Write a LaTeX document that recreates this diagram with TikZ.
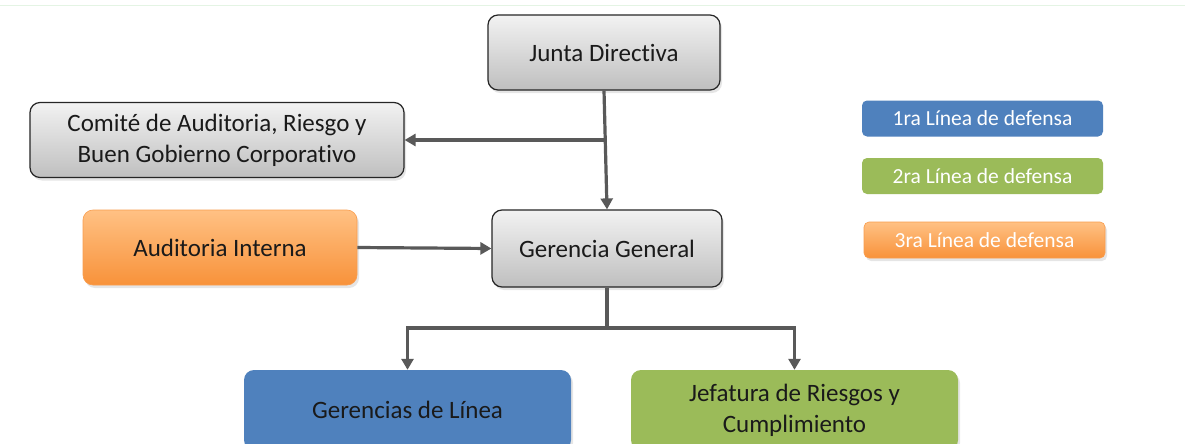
\documentclass[tikz,border=0pt]{standalone}
\usepackage{fontspec}
\setmainfont{Carlito}[Ligatures=NoCommon]
\usetikzlibrary{arrows.meta,shadows}
\definecolor{lineg}{HTML}{595959}
\definecolor{grayT}{HTML}{F2F2F2}
\definecolor{grayB}{HTML}{BFBFBF}
\definecolor{orT}{HTML}{FFC184}
\definecolor{orB}{HTML}{F8923A}
\definecolor{blueF}{HTML}{4F81BD}
\definecolor{greenF}{HTML}{9BBB59}
\definecolor{txt}{HTML}{1A1A1A}
\tikzset{
  box/.style={rounded corners=10pt, minimum height=75pt, inner sep=0pt, align=center,
    font=\fontsize{25}{31}\selectfont, text=txt,
    drop shadow={opacity=0.2, shadow xshift=2pt, shadow yshift=-3pt}},
  graybox/.style={box, draw=black!85, line width=1.2pt, top color=grayT, bottom color=grayB},
  orangebox/.style={box, draw=orB!90!white, line width=0.6pt, top color=orT, bottom color=orB},
  bluebox/.style={box, fill=blueF},
  greenbox/.style={box, fill=greenF},
  legend/.style={rounded corners=5pt, minimum width=241pt, minimum height=36pt, inner sep=0pt,
    font=\fontsize{21.5}{24}\selectfont, text=white},
  conn/.style={draw=lineg, line width=3.2pt},
  arr/.style={conn, -{Triangle[length=11pt,width=12pt]}}
}
\begin{document}
\begin{tikzpicture}[x=1pt,y=-1pt]
\useasboundingbox (0,0) rectangle (1185,444);
\clip (0,0) rectangle (1185,444);
\fill[white] (0,0) rectangle (1185,444);
\draw[green!40!gray!15, line width=1pt] (0,6) -- (1185,6);

\node[graybox, minimum width=232pt] (junta) at (604,52.5) {Junta Directiva};
\node[graybox, minimum width=374pt] (com) at (217,140) {Comité de Auditoria, Riesgo y\\Buen Gobierno Corporativo};
\node[graybox, minimum width=230pt, minimum height=77pt] (ger) at (607,248.5) {Gerencia General};
\node[orangebox, minimum width=274pt] (aud) at (220,247.5) {Auditoria Interna};
\node[bluebox, minimum width=327pt, minimum height=80pt] (gl) at (407.5,410) {Gerencias de Línea};
\node[greenbox, minimum width=327pt, minimum height=80pt] (jf) at (794.5,410) {Jefatura de Riesgos y\\Cumplimiento};

\node[legend, fill=blueF] (l1) at (982.5,118.5) {1ra Línea de defensa};
\node[legend, fill=greenF] (l2) at (982.5,176) {2ra Línea de defensa};
\node[legend, draw=orB!90!white, line width=0.6pt, top color=orT, bottom color=orB,
  drop shadow={opacity=0.2, shadow xshift=2pt, shadow yshift=-3pt}] (l3) at (984.5,240) {3ra Línea de defensa};

\draw[arr] (junta.south) -- (ger.north);
\draw[arr] (junta.south |- com.east) -- (com.east);
\draw[arr] (aud.east) -- (ger.west);
\coordinate (split) at (607,328);
\draw[conn] (ger.south) -- (split);
\draw[arr] (split) -| (gl.north);
\draw[arr] (split) -| (jf.north);
\end{tikzpicture}
\end{document}
